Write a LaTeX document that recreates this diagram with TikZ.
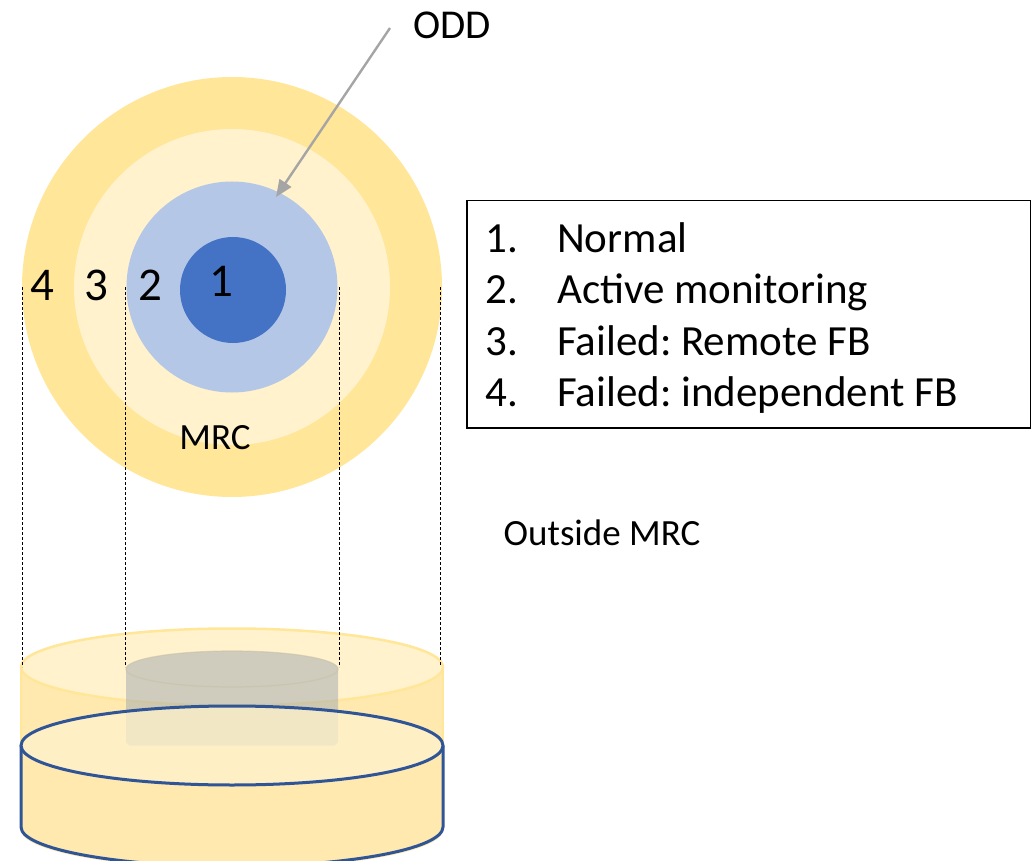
\documentclass[tikz,border=0pt]{standalone}
\usepackage{fontspec}
\setmainfont{Carlito}
\usetikzlibrary{arrows.meta}
\frenchspacing

\definecolor{ringfour}{HTML}{FFE699}
\definecolor{ringthree}{HTML}{FFF2CC}
\definecolor{ringtwo}{HTML}{B4C7E7}
\definecolor{ringone}{HTML}{4472C4}
\definecolor{baseblue}{HTML}{2F5597}
\definecolor{arrowgray}{HTML}{A5A5A5}
\definecolor{cylside}{HTML}{FFE9AF}
\definecolor{coregray}{HTML}{A0A8B2}

\tikzset{
  zone/.style={circle, inner sep=0pt, outer sep=0pt},
  zonenum/.style={font=\fontsize{47}{47}\selectfont, anchor=base, inner sep=0pt},
  legendline/.style={font=\fontsize{43}{52}\selectfont, anchor=base west, inner sep=0pt},
  plainlabel/.style={font=\fontsize{37}{37}\selectfont, inner sep=0pt},
  guide/.style={densely dashed, line width=0.8pt, black},
  oddarrow/.style={draw=arrowgray, line width=2.4pt, -{Triangle[length=17pt,width=14pt]}}
}

\begin{document}
\begin{tikzpicture}[x=1pt, y=-1pt]
\useasboundingbox (0,0) rectangle (1031,861);

% concentric zones
\node[zone, fill=ringfour,  minimum size=420pt] (zone4) at (232,287) {};
\node[zone, fill=ringthree, minimum size=316pt] (zone3) at (232,287) {};
\node[zone, fill=ringtwo,   minimum size=211pt] (zone2) at (232,287) {};
\node[zone, fill=ringone,   minimum size=106pt] (zone1) at (233,290) {};

\node[zonenum] (n4) at (42,300) {4};
\node[zonenum] (n3) at (96,300) {3};
\node[zonenum] (n2) at (150,300) {2};
\node[zonenum] (n1) at (221,296) {1};

\node[plainlabel] (mrc) at (215,438) {MRC};
\node[plainlabel] (outside) at (602,533) {Outside MRC};

% ODD pointer
\node[font=\fontsize{41}{41}\selectfont, inner sep=0pt] (odd) at (452,25) {ODD};
\coordinate (oddtail) at (390,28);
\coordinate (oddtip) at (276,197);
\draw[oddarrow] (oddtail) -- (oddtip);

% legend
\node[draw=black, line width=1.5pt, minimum width=564pt, minimum height=227pt,
      inner sep=0pt, anchor=north west] (legend) at (466,200) {};
\node[legendline] (l1n) at (485,252) {1.};
\node[legendline] (l1t) at (557,252) {Normal};
\node[legendline] (l2n) at (485,303.5) {2.};
\node[legendline] (l2t) at (557,303.5) {Active monitoring};
\node[legendline] (l3n) at (485,355) {3.};
\node[legendline] (l3t) at (557,355) {Failed: Remote FB};
\node[legendline] (l4n) at (485,406) {4.};
\node[legendline] (l4t) at (557,406) {Failed: independent FB};

% projection guides
\coordinate (g4a) at (22,287);  \coordinate (g4b) at (22,667);
\coordinate (g3a) at (125,287); \coordinate (g3b) at (125,667);
\coordinate (g2a) at (339,287); \coordinate (g2b) at (339,667);
\coordinate (g1a) at (440,287); \coordinate (g1b) at (440,665);

% outer translucent cylinder
\path[fill=cylside] (21,667) -- (21,830) arc[start angle=180, end angle=360, x radius=211pt, y radius=38.5pt] -- (443,667) -- cycle;
\path[draw=ringfour, line width=2pt] (21,667) -- (21,760);
\path[draw=ringfour, line width=2pt] (443,667) -- (443,760);
\path[fill=ringthree, draw=ringfour, line width=2.5pt] (232,667) ellipse [x radius=211pt, y radius=38.5pt];

% inner core cylinder (one translucent silhouette, then its rim)
\path[fill=coregray, fill opacity=0.5]
  (126,741) -- (126,669) arc[start angle=180, end angle=0, x radius=106pt, y radius=18pt]
  -- (338,741) arc[start angle=0, end angle=-180, x radius=106pt, y radius=18pt] -- cycle;
\path[draw=coregray!60!ringfour, draw opacity=0.6, line width=1.2pt] (232,669) ellipse [x radius=106pt, y radius=18pt];

\draw[guide] (g4a) -- (g4b);
\draw[guide] (g3a) -- (g3b);
\draw[guide] (g2a) -- (g2b);
\draw[guide] (g1a) -- (g1b);

% base cylinder
\path[fill=cylside, draw=baseblue, line width=3pt] (21,745.5) -- (21,827) arc[start angle=180, end angle=360, x radius=211pt, y radius=39.5pt] -- (443,745.5);
\path[fill=ringthree, fill opacity=0.75, draw=baseblue, line width=3pt] (232,745.5) ellipse [x radius=211pt, y radius=39.5pt];

\end{tikzpicture}
\end{document}
